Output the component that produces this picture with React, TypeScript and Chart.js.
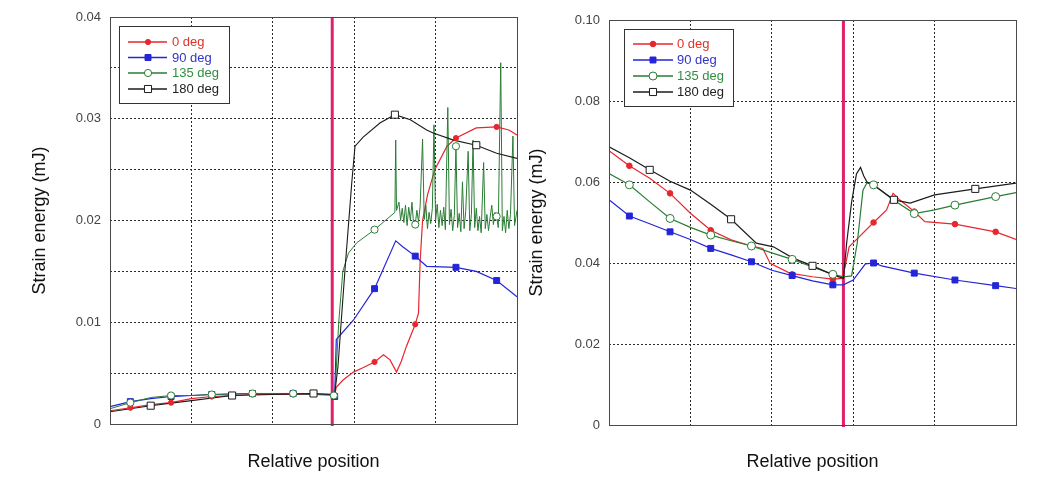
import React, { useEffect, useRef } from 'react';
import { Chart, registerables } from 'chart.js';

Chart.register(...registerables);

type P = [number, number];

// ---------- shared ----------
const SERIES_LABELS = ['0 deg', '90 deg', '135 deg', '180 deg'];
const LINE_COLORS = ['#e8262e', '#2424d8', '#2a7d34', '#1c1c1c'];
const TEXT_COLORS = ['#e0302a', '#3434c8', '#2f8f3f', '#222222'];
const MARK_STYLES = ['circle', 'rect', 'circle', 'rect'];
const MARK_FILLED = [true, true, false, false];
const X_LABEL = 'Relative position';
const Y_LABEL = 'Strain energy (mJ)';

// ---------- left panel ----------
const L_YMAX = 0.04;
const L_YSTEP = 0.005;
const L_INTERFACE = 2.73;

const L0_LINE: P[] = [
  [0, 0.0013], [0.25, 0.0016], [0.5, 0.0019], [0.75, 0.0021], [1.0, 0.0025], [1.25, 0.0027],
  [1.5, 0.0028], [1.75, 0.0029], [2.25, 0.0029], [2.76, 0.0029], [2.78, 0.0036], [2.86, 0.0043],
  [2.99, 0.0051], [3.1, 0.0055], [3.25, 0.0061], [3.36, 0.0068], [3.44, 0.0063], [3.52, 0.0051],
  [3.58, 0.0062], [3.64, 0.0076], [3.75, 0.0098], [3.79, 0.0109], [3.81, 0.016], [3.84, 0.02],
  [3.9, 0.0225], [3.99, 0.025], [4.14, 0.0273], [4.25, 0.0281], [4.5, 0.0291], [4.75, 0.0292],
  [4.9, 0.0289], [5.0, 0.0284],
];
const L0_MARK: P[] = [
  [0.25, 0.0016], [0.75, 0.0021], [1.25, 0.0027], [1.75, 0.0029], [2.25, 0.0029], [2.75, 0.0029],
  [3.25, 0.0061], [3.75, 0.0098], [4.25, 0.0281], [4.75, 0.0292],
];

const L1_LINE: P[] = [
  [0, 0.0017], [0.25, 0.0022], [0.5, 0.0025], [0.75, 0.0027], [1.0, 0.0028], [1.25, 0.0029],
  [1.75, 0.003], [2.25, 0.003], [2.74, 0.0029], [2.76, 0.0027], [2.78, 0.0083], [2.99, 0.0102],
  [3.25, 0.0133], [3.51, 0.018], [3.6, 0.0174], [3.75, 0.0165], [3.89, 0.0155], [4.25, 0.0154],
  [4.5, 0.015], [4.75, 0.0141], [5.0, 0.0125],
];
const L1_MARK: P[] = [
  [0.25, 0.0022], [0.75, 0.0027], [1.25, 0.0029], [1.75, 0.003], [2.25, 0.003], [2.76, 0.0027],
  [3.25, 0.0133], [3.75, 0.0165], [4.25, 0.0154], [4.75, 0.0141],
];

const L2_LINE: P[] = [
  [0, 0.0015], [0.25, 0.0021], [0.5, 0.0026], [0.75, 0.0028], [1.0, 0.0028], [1.25, 0.0029],
  [1.75, 0.003], [2.25, 0.003], [2.76, 0.0028], [2.77, 0.004], [2.81, 0.01], [2.86, 0.015],
  [2.93, 0.0168], [3.03, 0.0178], [3.25, 0.0191], [3.5, 0.0208], [3.51, 0.0279], [3.52, 0.021],
  [3.55, 0.0218], [3.57, 0.02], [3.59, 0.0212], [3.61, 0.0198], [3.63, 0.0215], [3.65, 0.0195],
  [3.67, 0.0213], [3.69, 0.02], [3.71, 0.0218], [3.73, 0.0196], [3.75, 0.0196], [3.77, 0.021],
  [3.79, 0.0199], [3.81, 0.0214], [3.84, 0.028], [3.86, 0.0201], [3.88, 0.0215], [3.9, 0.0192],
  [3.92, 0.0208], [3.94, 0.0197], [3.96, 0.0212], [3.98, 0.0294], [4.0, 0.02], [4.02, 0.0216],
  [4.04, 0.0193], [4.06, 0.021], [4.08, 0.0195], [4.1, 0.0213], [4.12, 0.0191], [4.15, 0.0311],
  [4.17, 0.0196], [4.19, 0.0211], [4.21, 0.019], [4.23, 0.0205], [4.25, 0.0273], [4.27, 0.0193],
  [4.29, 0.0207], [4.31, 0.0189], [4.33, 0.0238], [4.35, 0.0192], [4.37, 0.0209], [4.4, 0.0268],
  [4.42, 0.019], [4.44, 0.0206], [4.46, 0.0279], [4.48, 0.0193], [4.5, 0.0212], [4.52, 0.019],
  [4.54, 0.0204], [4.56, 0.0188], [4.59, 0.0257], [4.61, 0.0192], [4.63, 0.0206], [4.65, 0.019],
  [4.67, 0.0203], [4.69, 0.0215], [4.71, 0.0196], [4.73, 0.0208], [4.75, 0.0204], [4.77, 0.0193],
  [4.8, 0.0355], [4.82, 0.019], [4.84, 0.0204], [4.86, 0.0188], [4.88, 0.021], [4.9, 0.0192],
  [4.92, 0.0206], [4.95, 0.0283], [4.97, 0.0195], [5.0, 0.021],
];
const L2_MARK: P[] = [
  [0.25, 0.0021], [0.75, 0.0028], [1.25, 0.0029], [1.75, 0.003], [2.25, 0.003], [2.75, 0.0028],
  [3.25, 0.0191], [3.75, 0.0196], [4.25, 0.0273], [4.75, 0.0204],
];

const L3_LINE: P[] = [
  [0, 0.0012], [0.5, 0.0018], [1.0, 0.0023], [1.5, 0.0028], [2.0, 0.0029], [2.5, 0.003],
  [2.76, 0.0029], [2.8, 0.0056], [2.89, 0.0155], [2.97, 0.0237], [3.01, 0.0273], [3.11, 0.0282],
  [3.32, 0.0296], [3.5, 0.0304], [3.69, 0.0299], [3.89, 0.0289], [3.97, 0.0286], [4.22, 0.0279],
  [4.5, 0.0274], [4.75, 0.0266], [5.0, 0.0261],
];
const L3_MARK: P[] = [[0.5, 0.0018], [1.5, 0.0028], [2.5, 0.003], [3.5, 0.0304], [4.5, 0.0274]];

// ---------- right panel ----------
const R_YMAX = 0.1;
const R_YSTEP = 0.02;
const R_INTERFACE = 2.88;

const R0_LINE: P[] = [
  [0, 0.0677], [0.25, 0.064], [0.5, 0.0609], [0.75, 0.0572], [1.0, 0.0523], [1.25, 0.0481],
  [1.5, 0.0457], [1.75, 0.0442], [1.89, 0.0436], [1.98, 0.0399], [2.22, 0.0375], [2.5, 0.0366],
  [2.75, 0.036], [2.86, 0.0362], [2.9, 0.039], [2.95, 0.044], [3.03, 0.0456], [3.25, 0.05],
  [3.41, 0.0531], [3.49, 0.0572], [3.57, 0.0556], [3.75, 0.0527], [3.88, 0.0502], [4.25, 0.0496],
  [4.75, 0.0477], [5.0, 0.0458],
];
const R0_MARK: P[] = [
  [0.25, 0.064], [0.75, 0.0572], [1.25, 0.0481], [1.75, 0.0442], [2.25, 0.0372], [2.75, 0.036],
  [3.25, 0.05], [3.75, 0.0527], [4.25, 0.0496], [4.75, 0.0477],
];

const R1_LINE: P[] = [
  [0, 0.0556], [0.25, 0.0516], [0.5, 0.0497], [0.75, 0.0477], [1.0, 0.0458], [1.25, 0.0436],
  [1.5, 0.042], [1.75, 0.0403], [2.0, 0.0382], [2.25, 0.0369], [2.5, 0.0356], [2.75, 0.0346],
  [2.88, 0.0346], [3.0, 0.0358], [3.15, 0.0398], [3.25, 0.04], [3.35, 0.0393], [3.75, 0.0375],
  [4.25, 0.0358], [4.75, 0.0344], [5.0, 0.0337],
];
const R1_MARK: P[] = [
  [0.25, 0.0516], [0.75, 0.0477], [1.25, 0.0436], [1.75, 0.0403], [2.25, 0.0369], [2.75, 0.0346],
  [3.25, 0.04], [3.75, 0.0375], [4.25, 0.0358], [4.75, 0.0344],
];

const R2_LINE: P[] = [
  [0, 0.0621], [0.25, 0.0593], [0.5, 0.0551], [0.75, 0.051], [1.0, 0.0488], [1.25, 0.0469],
  [1.5, 0.0455], [1.75, 0.0442], [2.0, 0.0425], [2.25, 0.0409], [2.5, 0.039], [2.75, 0.0372],
  [2.88, 0.0366], [2.98, 0.0368], [3.05, 0.045], [3.12, 0.058], [3.17, 0.0598], [3.25, 0.0593],
  [3.5, 0.0555], [3.75, 0.0522], [4.0, 0.0531], [4.25, 0.0543], [4.75, 0.0564], [5.0, 0.0574],
];
const R2_MARK: P[] = [
  [0.25, 0.0593], [0.75, 0.051], [1.25, 0.0469], [1.75, 0.0442], [2.25, 0.0409], [2.75, 0.0372],
  [3.25, 0.0593], [3.75, 0.0522], [4.25, 0.0543], [4.75, 0.0564],
];

const R3_LINE: P[] = [
  [0, 0.0687], [0.25, 0.066], [0.5, 0.063], [0.75, 0.0602], [1.0, 0.058], [1.25, 0.0545],
  [1.5, 0.0508], [1.81, 0.0449], [2.02, 0.044], [2.26, 0.0412], [2.5, 0.0393], [2.76, 0.037],
  [2.88, 0.0362], [2.92, 0.045], [2.98, 0.055], [3.04, 0.062], [3.09, 0.0636], [3.13, 0.0615],
  [3.17, 0.06], [3.3, 0.0585], [3.5, 0.0556], [3.7, 0.0548], [4.0, 0.0568], [4.5, 0.0583],
  [5.0, 0.0597],
];
const R3_MARK: P[] = [[0.5, 0.063], [1.5, 0.0508], [2.5, 0.0393], [3.5, 0.0556], [4.5, 0.0583]];

// ---------- panel configs (layout only) ----------
type PanelCfg = {
  left: number; width: number; height: number;
  padTop: number; padRight: number; axisW: number; xAxisH: number;
  ymax: number; ystep: number; labelEvery: number; iface: number;
  lines: P[][]; marks: P[][]; markSize: number[]; lineW: number[];
  legendBox: [number, number, number, number]; legendRows: number[];
  legendLine: [number, number]; legendMark: number; legendText: number;
  yTitleX: number; xTitleY: number;
};

const FONT = "'Liberation Sans', Arial, sans-serif";

const LEFT_CFG: PanelCfg = {
  left: 0, width: 520, height: 479, padTop: 17, padRight: 3, axisW: 110, xAxisH: 55,
  ymax: L_YMAX, ystep: L_YSTEP, labelEvery: 0.01, iface: L_INTERFACE,
  lines: [L0_LINE, L1_LINE, L2_LINE, L3_LINE], marks: [L0_MARK, L1_MARK, L2_MARK, L3_MARK],
  markSize: [2.6, 4.2, 3.6, 5], lineW: [1.2, 1.2, 1, 1.1],
  legendBox: [119, 26, 110, 77], legendRows: [42, 57.5, 73, 89],
  legendLine: [128, 167], legendMark: 148, legendText: 172,
  yTitleX: 40, xTitleY: 462,
};

const RIGHT_CFG: PanelCfg = {
  left: 520, width: 518, height: 479, padTop: 20, padRight: 22, axisW: 89, xAxisH: 54,
  ymax: R_YMAX, ystep: R_YSTEP, labelEvery: 0.02, iface: R_INTERFACE,
  lines: [R0_LINE, R1_LINE, R2_LINE, R3_LINE], marks: [R0_MARK, R1_MARK, R2_MARK, R3_MARK],
  markSize: [2.8, 4.2, 4, 5], lineW: [1.2, 1.2, 1.2, 1.2],
  legendBox: [104, 29, 109, 77], legendRows: [44, 60, 76, 92],
  legendLine: [113, 153], legendMark: 133, legendText: 157,
  yTitleX: 17.5, xTitleY: 462,
};

function drawMarker(ctx: CanvasRenderingContext2D, i: number, x: number, y: number, r: number) {
  ctx.save();
  ctx.beginPath();
  if (MARK_STYLES[i] === 'circle') {
    ctx.arc(x, y, r, 0, Math.PI * 2);
  } else {
    const s = Math.SQRT1_2 * r;
    ctx.rect(x - s, y - s, 2 * s, 2 * s);
  }
  ctx.fillStyle = MARK_FILLED[i] ? LINE_COLORS[i] : '#ffffff';
  ctx.fill();
  ctx.lineWidth = 1;
  ctx.strokeStyle = LINE_COLORS[i];
  ctx.stroke();
  ctx.restore();
}

function Panel({ cfg }: { cfg: PanelCfg }) {
  const ref = useRef<HTMLCanvasElement | null>(null);
  useEffect(() => {
    if (!ref.current) return;
    const datasets: any[] = [];
    cfg.lines.forEach((ln, i) => {
      datasets.push({
        label: SERIES_LABELS[i],
        data: ln.map(([x, y]) => ({ x, y })),
        showLine: true,
        borderColor: LINE_COLORS[i],
        backgroundColor: LINE_COLORS[i],
        borderWidth: cfg.lineW[i],
        pointRadius: 0,
        tension: 0,
        fill: false,
        order: 10 - i,
      });
    });
    cfg.marks.forEach((mk, i) => {
      datasets.push({
        label: SERIES_LABELS[i] + ' markers',
        data: mk.map(([x, y]) => ({ x, y })),
        showLine: false,
        pointStyle: MARK_STYLES[i],
        pointRadius: cfg.markSize[i],
        pointBackgroundColor: MARK_FILLED[i] ? LINE_COLORS[i] : '#ffffff',
        pointBorderColor: LINE_COLORS[i],
        pointBorderWidth: 1,
        order: 5 - i,
      });
    });

    const decor = {
      id: 'decor',
      beforeDatasetsDraw(chart: any) {
        const { ctx, chartArea } = chart;
        const x = chart.scales.x.getPixelForValue(cfg.iface);
        ctx.save();
        ctx.strokeStyle = '#e0206a';
        ctx.lineWidth = 3;
        ctx.beginPath();
        ctx.moveTo(x, chartArea.top);
        ctx.lineTo(x, chartArea.bottom + 2);
        ctx.stroke();
        ctx.restore();
      },
      afterDraw(chart: any) {
        const { ctx, chartArea } = chart;
        ctx.save();
        // plot frame
        ctx.strokeStyle = '#4a4a4a';
        ctx.lineWidth = 1;
        ctx.strokeRect(
          Math.round(chartArea.left) + 0.5,
          Math.round(chartArea.top) + 0.5,
          Math.round(chartArea.right - chartArea.left),
          Math.round(chartArea.bottom - chartArea.top)
        );
        // legend
        const [bx, by, bw, bh] = cfg.legendBox;
        ctx.fillStyle = '#ffffff';
        ctx.fillRect(bx, by, bw, bh);
        ctx.strokeStyle = '#333333';
        ctx.strokeRect(bx + 0.5, by + 0.5, bw, bh);
        cfg.legendRows.forEach((ry, i) => {
          ctx.strokeStyle = LINE_COLORS[i];
          ctx.lineWidth = 1.3;
          ctx.beginPath();
          ctx.moveTo(cfg.legendLine[0], ry);
          ctx.lineTo(cfg.legendLine[1], ry);
          ctx.stroke();
          drawMarker(ctx, i, cfg.legendMark, ry, cfg.markSize[i]);
          ctx.fillStyle = TEXT_COLORS[i];
          ctx.font = `13px ${FONT}`;
          ctx.textAlign = 'left';
          ctx.textBaseline = 'middle';
          ctx.fillText(SERIES_LABELS[i], cfg.legendText, ry + 0.5);
        });
        // axis titles
        ctx.fillStyle = '#111111';
        ctx.font = `18px ${FONT}`;
        ctx.textAlign = 'center';
        ctx.textBaseline = 'middle';
        ctx.fillText(X_LABEL, (chartArea.left + chartArea.right) / 2, cfg.xTitleY);
        ctx.translate(cfg.yTitleX, (chartArea.top + chartArea.bottom) / 2);
        ctx.rotate(-Math.PI / 2);
        ctx.fillText(Y_LABEL, 0, 0);
        ctx.restore();
      },
    };

    const gridCommon = { color: '#2a2a2a', lineWidth: 1, drawTicks: false };
    const chart = new Chart(ref.current, {
      type: 'scatter',
      data: { datasets },
      options: {
        responsive: false,
        animation: false,
        layout: {
          autoPadding: false,
          padding: { top: cfg.padTop, right: cfg.padRight, left: 0, bottom: 0 },
        },
        plugins: { legend: { display: false }, tooltip: { enabled: false } },
        scales: {
          x: {
            type: 'linear',
            min: 0,
            max: 5,
            ticks: { display: false, stepSize: 1 },
            grid: gridCommon,
            border: { display: false, dash: [2, 2] },
            afterFit: (s: any) => { s.height = cfg.xAxisH; },
          },
          y: {
            type: 'linear',
            min: 0,
            max: cfg.ymax,
            ticks: {
              stepSize: cfg.ystep,
              autoSkip: false,
              padding: 9,
              color: '#444444',
              font: { family: FONT, size: 13 },
              callback: (v: any) => {
                const n = Number(v);
                if (Math.abs(n) < 1e-9) return '0';
                const k = n / cfg.labelEvery;
                if (Math.abs(k - Math.round(k)) > 1e-6) return '';
                return n.toFixed(2);
              },
            },
            grid: gridCommon,
            border: { display: false, dash: [2, 2] },
            afterFit: (s: any) => { s.width = cfg.axisW; },
          },
        },
      },
      plugins: [decor],
    } as any);
    return () => chart.destroy();
  }, [cfg]);
  return (
    <canvas
      ref={ref}
      width={cfg.width}
      height={cfg.height}
      style={{ position: 'absolute', left: cfg.left, top: 0, width: cfg.width, height: cfg.height }}
    />
  );
}

export default function App() {
  return (
    <div style={{ position: 'fixed', left: 0, top: 0, width: 1038, height: 479, background: '#ffffff' }}>
      <Panel cfg={LEFT_CFG} />
      <Panel cfg={RIGHT_CFG} />
    </div>
  );
}
